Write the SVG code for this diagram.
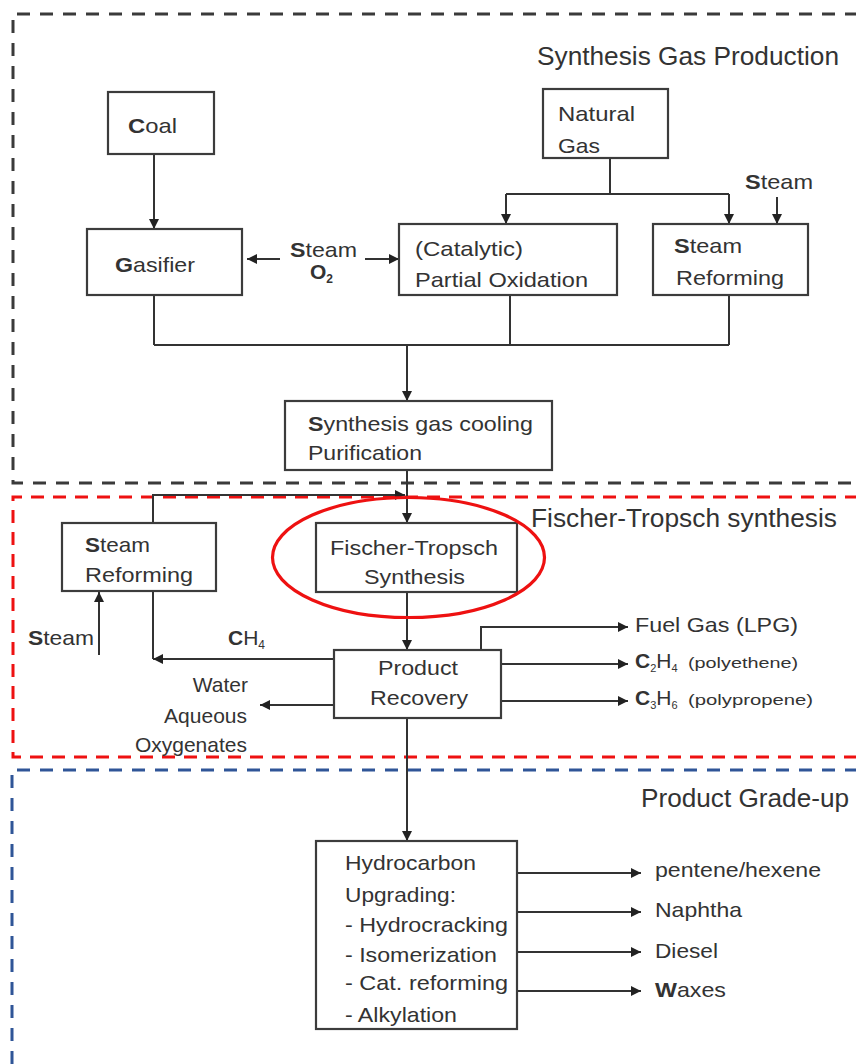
<svg xmlns="http://www.w3.org/2000/svg" width="856" height="1064" viewBox="0 0 856 1064">
<defs>
<marker id="ah" viewBox="0 0 10 10" refX="10" refY="5" markerWidth="11" markerHeight="10" markerUnits="userSpaceOnUse" orient="auto">
<path d="M0,0 L10,5 L0,10 z" fill="#222"/>
</marker>
<style>
text{font-family:"Liberation Sans",Arial,sans-serif;fill:#333;}
.t{font-size:21px;}
.h{font-size:25px;}
.sm{font-size:15px;}
.b{font-weight:bold;}
.box{fill:none;stroke:#3c3c3c;stroke-width:2.2;}
.ln{fill:none;stroke:#333;stroke-width:2;}
.ar{fill:none;stroke:#333;stroke-width:2;marker-end:url(#ah);}
.dg{fill:none;stroke:#3a3a3a;stroke-width:3;stroke-dasharray:13 10;}
.dr{fill:none;stroke:#ee1111;stroke-width:3;stroke-dasharray:13 9;}
.db{fill:none;stroke:#2f5597;stroke-width:3;stroke-dasharray:13 10;}
</style>
</defs>
<rect width="856" height="1064" fill="#ffffff"/>

<g id="sections">
<path class="dg" d="M858,14 H13 V483 H858"/>
<path class="dr" d="M858,497 H13 V757 H858"/>
<path class="db" d="M858,770 H12 V1066"/>
<text class="h" x="537" y="65" textLength="302" lengthAdjust="spacingAndGlyphs">Synthesis Gas Production</text>
<text class="h" x="531" y="527" textLength="306" lengthAdjust="spacingAndGlyphs">Fischer-Tropsch synthesis</text>
<text class="h" x="641" y="807" textLength="208" lengthAdjust="spacingAndGlyphs">Product Grade-up</text>
</g>

<g id="connectors">
<path class="ar" d="M154,154 V229"/>
<path class="ar" d="M280,259 H247"/>
<path class="ar" d="M365,259 H399"/>
<path class="ln" d="M610,158 V194 M506,194 H729"/>
<path class="ar" d="M506,194 V224"/>
<path class="ar" d="M729,194 V224"/>
<path class="ar" d="M777,197 V224"/>
<path class="ln" d="M154,295 V345 M510,295 V345 M729,295 V345 M154,345 H729"/>
<path class="ar" d="M407,345 V401"/>
<path class="ar" d="M407,470 V523"/>
<path class="ar" d="M153,523 V495 H405"/>
<path class="ar" d="M99,655 V592"/>
<path class="ln" d="M153,591 V659"/>
<path class="ar" d="M334,659 H153"/>
<path class="ar" d="M407,592 V650"/>
<path class="ar" d="M481,650 V627 H628"/>
<path class="ar" d="M501,664 H628"/>
<path class="ar" d="M501,701 H628"/>
<path class="ar" d="M334,705 H260"/>
<path class="ar" d="M407,718 V841"/>
<path class="ar" d="M517,873 H641"/>
<path class="ar" d="M517,912 H641"/>
<path class="ar" d="M517,952 H641"/>
<path class="ar" d="M517,991 H641"/>
</g>

<g id="coal">
<rect class="box" x="108" y="92" width="106" height="62"/>
<text class="t" x="128" y="133" textLength="49" lengthAdjust="spacingAndGlyphs"><tspan class="b">C</tspan>oal</text>
</g>
<g id="gasifier">
<rect class="box" x="87" y="229" width="155" height="66"/>
<text class="t" x="115" y="272" textLength="80" lengthAdjust="spacingAndGlyphs"><tspan class="b">G</tspan>asifier</text>
</g>
<g id="steam-o2">
<text class="t" x="290" y="257" textLength="67" lengthAdjust="spacingAndGlyphs"><tspan class="b">S</tspan>team</text>
<text class="t b" x="310" y="279">O<tspan font-size="12" dy="4">2</tspan></text>
</g>
<g id="natural-gas">
<rect class="box" x="543" y="89" width="125" height="69"/>
<text class="t" x="558" y="121" textLength="77" lengthAdjust="spacingAndGlyphs">Natural</text>
<text class="t" x="558" y="153" textLength="42" lengthAdjust="spacingAndGlyphs">Gas</text>
</g>
<g id="steam-top">
<text class="t" x="745" y="189" textLength="68" lengthAdjust="spacingAndGlyphs"><tspan class="b">S</tspan>team</text>
</g>
<g id="partial-oxidation">
<rect class="box" x="399" y="224" width="218" height="71"/>
<text class="t" x="415" y="256" textLength="108" lengthAdjust="spacingAndGlyphs">(Catalytic)</text>
<text class="t" x="415" y="287" textLength="173" lengthAdjust="spacingAndGlyphs">Partial Oxidation</text>
</g>
<g id="steam-reforming-top">
<rect class="box" x="653" y="224" width="155" height="71"/>
<text class="t" x="674" y="253" textLength="68" lengthAdjust="spacingAndGlyphs"><tspan class="b">S</tspan>team</text>
<text class="t" x="676" y="285" textLength="108" lengthAdjust="spacingAndGlyphs">Reforming</text>
</g>
<g id="syngas-cooling">
<rect class="box" x="285" y="401" width="267" height="69"/>
<text class="t" x="308" y="431" textLength="225" lengthAdjust="spacingAndGlyphs"><tspan class="b">S</tspan>ynthesis gas cooling</text>
<text class="t" x="308" y="460" textLength="114" lengthAdjust="spacingAndGlyphs">Purification</text>
</g>
<g id="steam-reforming-left">
<rect class="box" x="62" y="523" width="154" height="68"/>
<text class="t" x="85" y="552" textLength="65" lengthAdjust="spacingAndGlyphs"><tspan class="b">S</tspan>team</text>
<text class="t" x="85" y="582" textLength="108" lengthAdjust="spacingAndGlyphs">Reforming</text>
</g>
<g id="steam-left">
<text class="t" x="28" y="645" textLength="66" lengthAdjust="spacingAndGlyphs"><tspan class="b">S</tspan>team</text>
</g>
<g id="ch4">
<text class="t" x="228" y="645"><tspan class="b">C</tspan>H<tspan font-size="12" dy="4">4</tspan></text>
</g>
<g id="fischer-tropsch">
<rect class="box" x="316" y="523" width="201" height="69"/>
<text class="t" x="330" y="555" textLength="168" lengthAdjust="spacingAndGlyphs">Fischer-Tropsch</text>
<text class="t" x="364" y="584" textLength="101" lengthAdjust="spacingAndGlyphs">Synthesis</text>
<ellipse cx="408.5" cy="557.5" rx="136" ry="60" fill="none" stroke="#ee1111" stroke-width="3.2"/>
</g>
<g id="product-recovery">
<rect class="box" x="334" y="650" width="167" height="68"/>
<text class="t" x="378" y="675" textLength="80" lengthAdjust="spacingAndGlyphs">Product</text>
<text class="t" x="370" y="705" textLength="98" lengthAdjust="spacingAndGlyphs">Recovery</text>
</g>
<g id="water">
<text class="t" x="248" y="692" text-anchor="end">Water</text>
<text class="t" x="247" y="723" text-anchor="end">Aqueous</text>
<text class="t" x="247" y="752" text-anchor="end">Oxygenates</text>
</g>
<g id="fuel-gas">
<text class="t" x="635" y="632" textLength="163" lengthAdjust="spacingAndGlyphs">Fuel Gas (LPG)</text>
</g>
<g id="c2h4">
<text class="t" x="635" y="668"><tspan class="b">C</tspan><tspan font-size="11" dy="4">2</tspan><tspan dy="-4">H</tspan><tspan font-size="11" dy="4">4</tspan></text>
<text class="sm" x="688" y="668" textLength="110" lengthAdjust="spacingAndGlyphs">(polyethene)</text>
</g>
<g id="c3h6">
<text class="t" x="635" y="705"><tspan class="b">C</tspan><tspan font-size="11" dy="4">3</tspan><tspan dy="-4">H</tspan><tspan font-size="11" dy="4">6</tspan></text>
<text class="sm" x="688" y="705" textLength="125" lengthAdjust="spacingAndGlyphs">(polypropene)</text>
</g>
<g id="hydrocarbon-upgrading">
<rect class="box" x="316" y="841" width="201" height="188"/>
<text class="t" x="345" y="870" textLength="131" lengthAdjust="spacingAndGlyphs">Hydrocarbon</text>
<text class="t" x="345" y="902" textLength="111" lengthAdjust="spacingAndGlyphs">Upgrading:</text>
<text class="t" x="345" y="932" textLength="163" lengthAdjust="spacingAndGlyphs">- Hydrocracking</text>
<text class="t" x="345" y="962" textLength="152" lengthAdjust="spacingAndGlyphs">- Isomerization</text>
<text class="t" x="345" y="990" textLength="163" lengthAdjust="spacingAndGlyphs">- Cat. reforming</text>
<text class="t" x="345" y="1022" textLength="112" lengthAdjust="spacingAndGlyphs">- Alkylation</text>
</g>
<g id="products">
<text class="t" x="655" y="877" textLength="166" lengthAdjust="spacingAndGlyphs">pentene/hexene</text>
<text class="t" x="655" y="917" textLength="87" lengthAdjust="spacingAndGlyphs">Naphtha</text>
<text class="t" x="655" y="958" textLength="63" lengthAdjust="spacingAndGlyphs">Diesel</text>
<text class="t" x="655" y="997" textLength="71" lengthAdjust="spacingAndGlyphs"><tspan class="b">W</tspan>axes</text>
</g>
</svg>
